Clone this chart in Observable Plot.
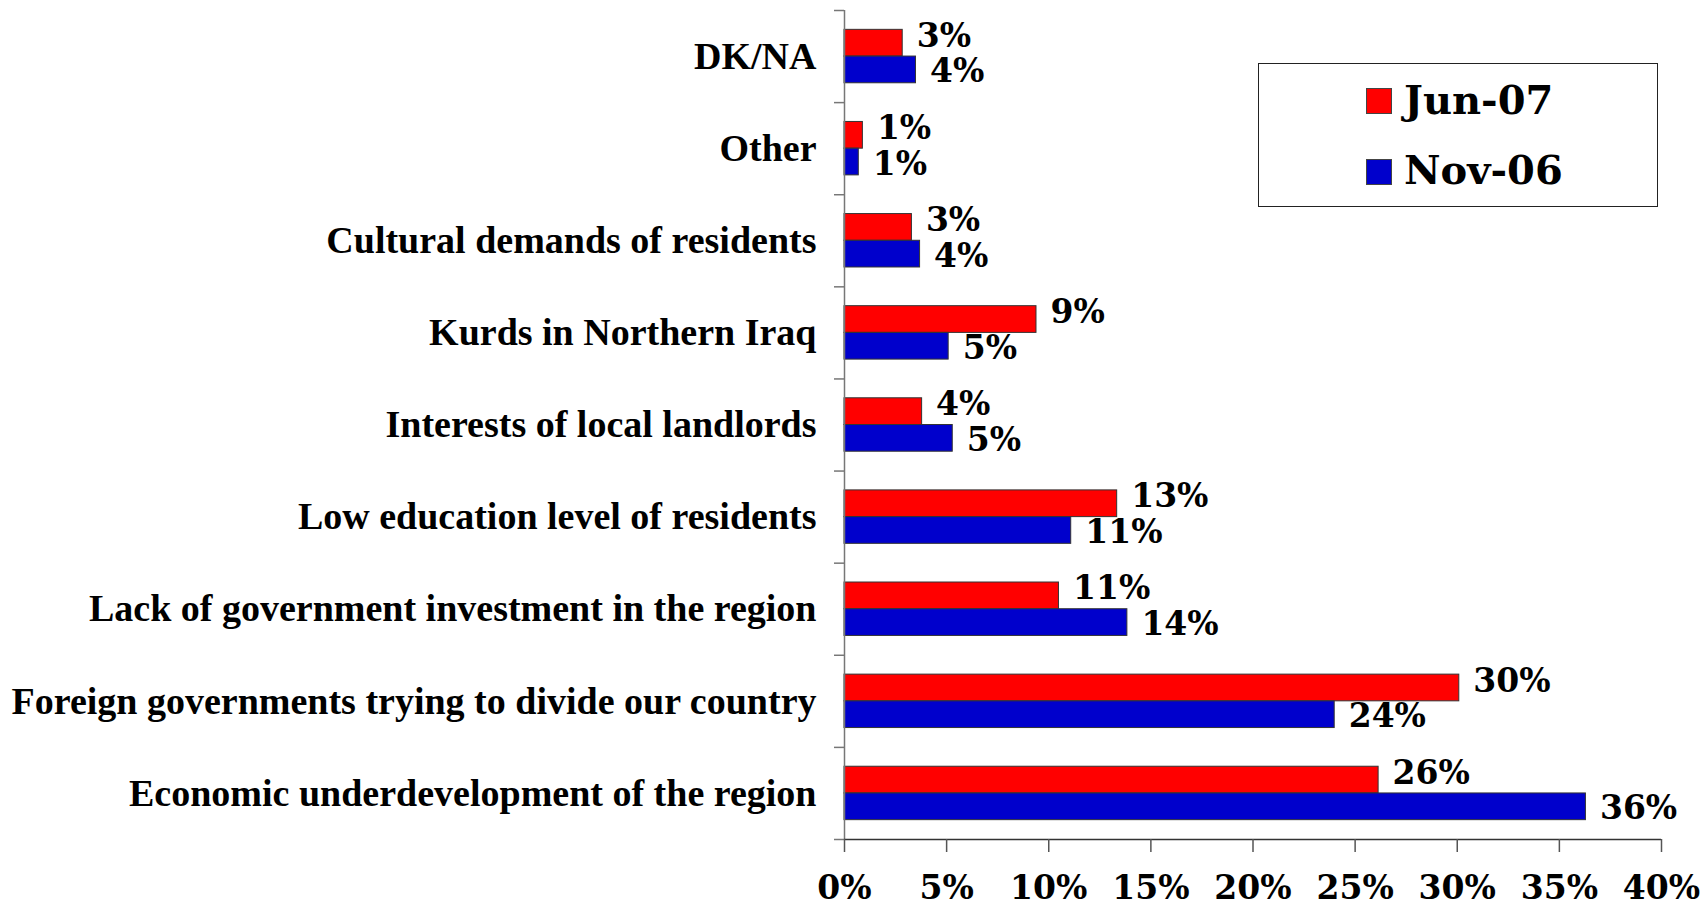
<!DOCTYPE html>
<html>
<head>
<meta charset="utf-8">
<script src="https://cdn.jsdelivr.net/npm/d3@7"></script>
<script src="https://cdn.jsdelivr.net/npm/@observablehq/plot@0.6"></script>
<style>
  html, body { margin: 0; padding: 0; background: #fff; }
  #wrap { position: relative; width: 1706px; height: 908px; }
  #legend { position: absolute; left: 1258px; top: 63px; width: 398px; height: 142px;
            border: 1.5px solid #222; background: #fff; box-sizing: content-box; }
  .sw { position: absolute; width: 26px; height: 26px; border: 1px solid #444; box-sizing: border-box; }
  .lt { position: absolute; font-family: "DejaVu Serif", serif; font-weight: bold; font-size: 40px; line-height: 40px; white-space: nowrap; }
</style>
</head>
<body>
<div id="wrap"></div>
<script>
// Categories, top to bottom
const categories = [
  "DK/NA",
  "Other",
  "Cultural demands of residents",
  "Kurds in Northern Iraq",
  "Interests of local landlords",
  "Low education level of residents",
  "Lack of government investment in the region",
  "Foreign governments trying to divide our country",
  "Economic underdevelopment of the region"
];
const seriesNames = ["Jun-07", "Nov-06"];
const seriesColors = ["#FF0000", "#0000CC"];
// Percent values
const jun07 = [2.85, 0.9, 3.3, 9.4, 3.8, 13.35, 10.5, 30.1, 26.15];
const nov06 = [3.5, 0.7, 3.7, 5.1, 5.3, 11.1, 13.85, 24.0, 36.3];
const xTicks = [0, 5, 10, 15, 20, 25, 30, 35, 40];

const rows = [];
categories.forEach((c, i) => {
  rows.push({cat: c, i, series: seriesNames[0], value: jun07[i], k: 0});
  rows.push({cat: c, i, series: seriesNames[1], value: nov06[i], k: 1});
});
const redRows = rows.filter(d => d.k === 0);
const blueRows = rows.filter(d => d.k === 1);

const half = 0.29; // bar thickness in band units
const y1 = d => d.k === 0 ? d.i - half : d.i;
const y2 = d => d.k === 0 ? d.i : d.i + half;
const yMid = d => (y1(d) + y2(d)) / 2;

const serif = "'DejaVu Serif', serif";
const serifNarrow = "'Liberation Serif', 'Times New Roman', serif";

const valueLabel = (data, dy) => Plot.text(data, {
  x: "value", y: yMid, text: d => Math.round(d.value) + "%",
  textAnchor: "start", dx: 14, dy, fontSize: 33, fontWeight: "bold",
  fill: "#000", fontFamily: serif
});

const chart = Plot.plot({
  width: 1706,
  height: 908,
  marginLeft: 844,
  marginRight: 45,
  marginTop: 10,
  marginBottom: 69,
  style: {background: "#fff", fontFamily: serif},
  x: {domain: [0, 40], axis: null, label: null},
  y: {domain: [categories.length - 0.5, -0.5], axis: null, label: null},
  color: {domain: seriesNames, range: seriesColors},
  marks: [
    Plot.rect(rows, {x1: 0, x2: "value", y1, y2, fill: "series", stroke: "#333", strokeWidth: 1}),
    Plot.ruleX([0], {stroke: "#777", strokeWidth: 1.5}),
    Plot.ruleY([categories.length - 0.5], {stroke: "#333", strokeWidth: 1.5}),
    // boundary ticks on the category axis
    Plot.axisY({ticks: d3.range(-0.5, categories.length, 1), tickSize: 10, tickFormat: () => "",
      stroke: "#777", strokeWidth: 1.5, label: null}),
    // category labels
    Plot.axisY({ticks: d3.range(categories.length), tickSize: 0, tickPadding: 28,
      tickFormat: i => categories[i], fontSize: 38, fontWeight: "bold", fill: "#000",
      fontFamily: serifNarrow, label: null}),
    // x axis
    Plot.axisX({ticks: xTicks, tickSize: 13, tickPadding: 23, tickFormat: d => d + "%",
      fontSize: 33, fontWeight: "bold", stroke: "#555", strokeWidth: 1.5, fill: "#000",
      fontFamily: serif, label: null}),
    // value labels
    valueLabel(redRows, -7),
    valueLabel(blueRows, 2)
  ]
});

const wrap = document.getElementById("wrap");
wrap.appendChild(chart);
chart.style.position = "absolute";
chart.style.left = "0px";
chart.style.top = "0px";

// legend
const legend = document.createElement("div");
legend.id = "legend";
seriesNames.forEach((name, j) => {
  const sw = document.createElement("div");
  sw.className = "sw";
  sw.style.left = "107px";
  sw.style.top = (24 + j * 71) + "px";
  sw.style.background = seriesColors[j];
  legend.appendChild(sw);
  const t = document.createElement("div");
  t.className = "lt";
  t.style.left = "145px";
  t.style.top = (16 + j * 70) + "px";
  t.textContent = name;
  legend.appendChild(t);
});
wrap.appendChild(legend);
</script>
</body>
</html>
